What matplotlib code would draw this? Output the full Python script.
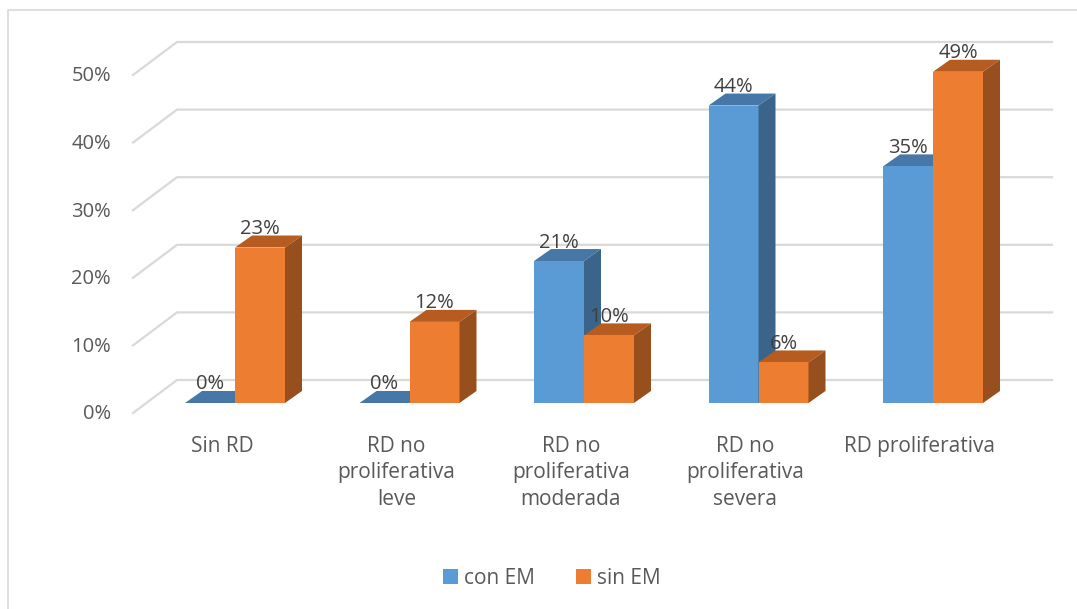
import numpy as np
import matplotlib.pyplot as plt
from matplotlib.patches import Polygon, Rectangle, Patch

plt.rcParams['font.family'] = ['Open Sans', 'DejaVu Sans']

# 数据
categories = ["Sin RD", "RD no\nproliferativa\nleve", "RD no\nproliferativa\nmoderada",
              "RD no\nproliferativa\nsevera", "RD proliferativa"]
series_names = ["con EM", "sin EM"]
con_em = [0, 0, 21, 44, 35]
sin_em = [23, 12, 10, 6, 49]
y_ticks = [0, 10, 20, 30, 40, 50]

# 颜色: 正面 / 顶面 / 侧面
colors = {
    "con EM": ("#5B9BD5", "#4677A6", "#3A6489"),
    "sin EM": ("#ED7D31", "#B65C21", "#97501D"),
}
text_color = "#595959"
grid_color = "#D9D9D9"

W, H = 1077, 609
fig = plt.figure(figsize=(W / 100, H / 100), dpi=100)
ax = fig.add_axes([0, 0, 1, 1])

# scale: one category = 174.5 px, 1% = 6.76 px
px_cat, px_pct = 174.5, 6.76
x0_px, y0_px = 235, 403
ax.set_xlim(-x0_px / px_cat, (W - x0_px) / px_cat)
ax.set_ylim((y0_px - H) / px_pct, y0_px / px_pct)
ax.axis("off")

bar_w = 50 / px_cat
dep = np.array([17 / px_cat, 12 / px_pct])        # bar depth
to_front = np.array([-13 / px_cat, -10 / px_pct])  # bar plane -> floor front
to_back = np.array([31 / px_cat, 23 / px_pct])     # bar plane -> back wall
grid_x0 = (133 - x0_px) / px_cat
grid_x1 = (1052 - x0_px) / px_cat

# 网格线 (back wall + floor/side diagonal)
for t in y_ticks:
    fx, fy = grid_x0, t + to_front[1]
    bx, by = fx + (to_back[0] - to_front[0]), t + to_back[1]
    ax.plot([fx, bx, grid_x1], [fy, by, by], color=grid_color, lw=1.6, zorder=1,
            solid_joinstyle="miter")
    ax.text(-(x0_px - 111) / px_cat, t - 1.7, f"{t}%", ha="right", va="center",
            fontsize=14.5, color=text_color)


def draw_bar(x, h, cols, z):
    front, top, side = cols
    # top face
    ax.add_patch(Polygon([(x, h), (x + bar_w, h), (x + bar_w + dep[0], h + dep[1]),
                          (x + dep[0], h + dep[1])], closed=True, fc=top, ec="none", zorder=z))
    if h > 0:
        ax.add_patch(Rectangle((x, 0), bar_w, h, fc=front, ec="none", zorder=z))
        ax.add_patch(Polygon([(x + bar_w, 0), (x + bar_w + dep[0], dep[1]),
                              (x + bar_w + dep[0], h + dep[1]), (x + bar_w, h)],
                             closed=True, fc=side, ec="none", zorder=z))


z = 2
for i in range(len(categories)):
    for j, (name, vals) in enumerate(zip(series_names, [con_em, sin_em])):
        x = i - bar_w + j * bar_w
        draw_bar(x, vals[i], colors[name], z)
        z += 1

# 数值标签
for i in range(len(categories)):
    for j, vals in enumerate([con_em, sin_em]):
        x = i - bar_w + j * bar_w + bar_w / 2
        ax.annotate(f"{vals[i]}%", (x, vals[i] + dep[1]), xytext=(0, -2.5),
                    textcoords="offset points", ha="center", va="bottom",
                    fontsize=14.5, color="#404040", zorder=50)

# 类别标签
for i, lab in enumerate(categories):
    ax.text(i + to_front[0], (y0_px - 436) / px_pct, lab, ha="center", va="top",
            fontsize=15, color=text_color, linespacing=1.33)

# 图表边框
fig.patches.append(Rectangle((8 / W, -0.1), 1.2, 1 - 10 / H + 0.1, transform=fig.transFigure,
                             fill=False, ec="#D9D9D9", lw=1.2))

handles = [Patch(fc=colors[n][0], ec="none") for n in series_names]
fig.legend(handles, series_names, loc="center", bbox_to_anchor=(552 / W, 1 - 578 / H),
           ncol=2, frameon=False, fontsize=15, handlelength=0.7, handleheight=0.7,
           handletextpad=0.3, columnspacing=2.0, labelcolor=text_color)

fig.savefig("out.png", dpi=100)
